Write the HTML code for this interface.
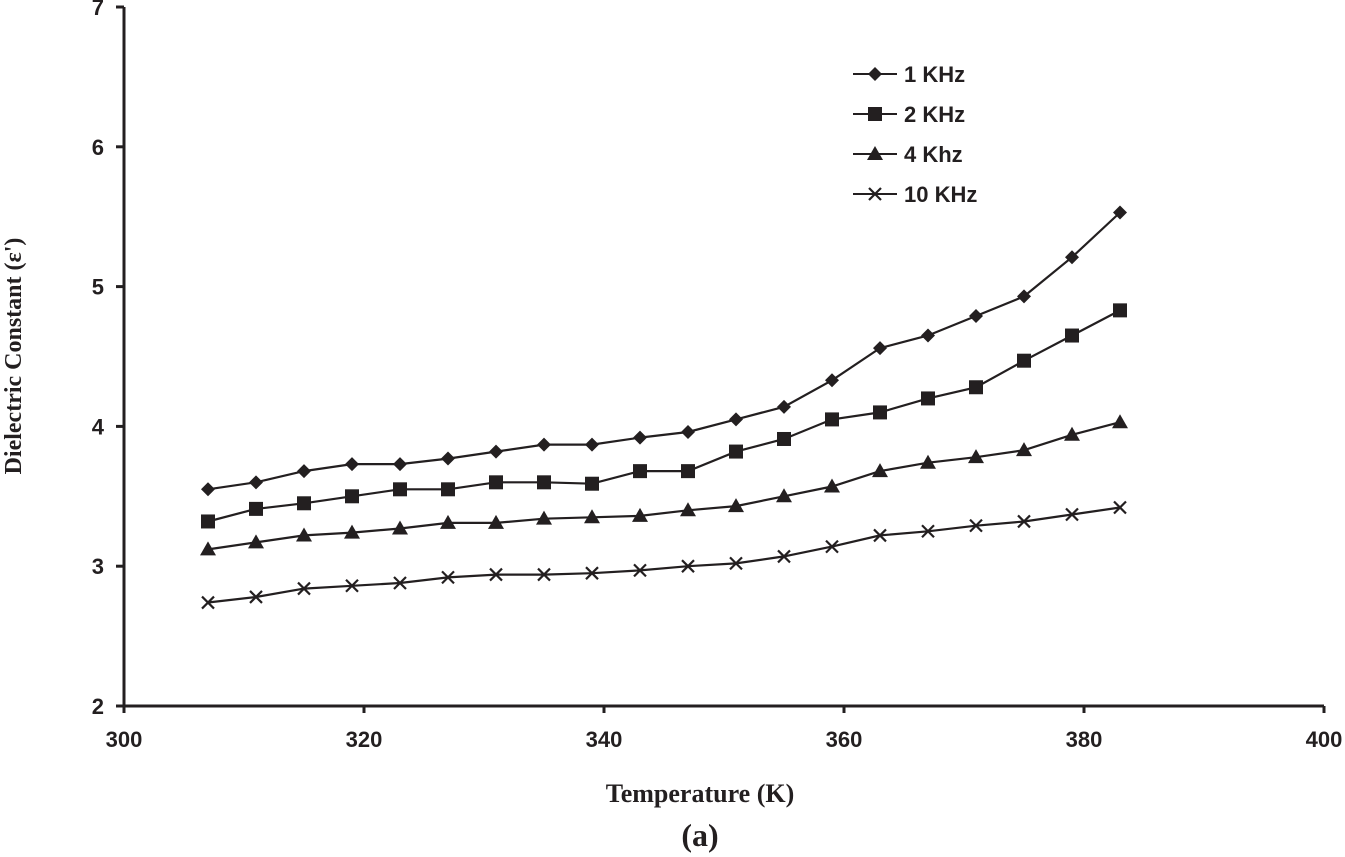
<!DOCTYPE html>
<html><head><meta charset="utf-8"><style>
body{margin:0;background:#fff}
svg{display:block}
.tk{font-family:"Liberation Sans",sans-serif;font-weight:bold;font-size:22px;fill:#231f20}
.tt{font-family:"Liberation Serif",serif;font-weight:bold;fill:#231f20}
</style></head><body>
<svg id="chart" width="1345" height="857" viewBox="0 0 1345 857" xmlns="http://www.w3.org/2000/svg">
<g id="axes"></g>
<g id="series"></g>
<g id="legend"></g>
<text class="tt" x="700" y="802" text-anchor="middle" font-size="26">Temperature (K)</text>
<text class="tt" transform="translate(21,356) rotate(-90)" text-anchor="middle" font-size="24">Dielectric Constant (ε')</text>
<text class="tt" x="700" y="846" text-anchor="middle" font-size="32">(a)</text>
</svg>
<script>
const temps=[307,311,315,319,323,327,331,335,339,343,347,351,355,359,363,367,371,375,379,383];
const s1k=[3.55,3.60,3.68,3.73,3.73,3.77,3.82,3.87,3.87,3.92,3.96,4.05,4.14,4.33,4.56,4.65,4.79,4.93,5.21,5.53];
const s2k=[3.32,3.41,3.45,3.50,3.55,3.55,3.60,3.60,3.59,3.68,3.68,3.82,3.91,4.05,4.10,4.20,4.28,4.47,4.65,4.83];
const s4k=[3.12,3.17,3.22,3.24,3.27,3.31,3.31,3.34,3.35,3.36,3.40,3.43,3.50,3.57,3.68,3.74,3.78,3.83,3.94,4.03];
const s10k=[2.74,2.78,2.84,2.86,2.88,2.92,2.94,2.94,2.95,2.97,3.00,3.02,3.07,3.14,3.22,3.25,3.29,3.32,3.37,3.42];
const xTicks=[300,320,340,360,380,400];
const yTicks=[2,3,4,5,6,7];
const seriesNames=["1 KHz","2 KHz","4 Khz","10 KHz"];
const NS="http://www.w3.org/2000/svg";
const X0=124,X1=1324,Y0=706,Y1=7,C="#231f20";
const xs=v=>X0+(v-300)/100*(X1-X0);
const ys=v=>Y0-(v-2)/5*(Y0-Y1);
function mk(t,a,p){const e=document.createElementNS(NS,t);for(const k in a)e.setAttribute(k,a[k]);p.appendChild(e);return e;}
const ax=document.getElementById('axes');
let e=mk('line',{x1:X0,y1:Y1,x2:X0,y2:Y0+1,stroke:C,'stroke-width':3},ax);


e=mk('line',{x1:X0-1,y1:Y0,x2:X1,y2:Y0,stroke:C,'stroke-width':3},ax);


xTicks.forEach(t=>{const x=xs(t);
 mk('line',{x1:x,y1:Y0,x2:x,y2:Y0+7,stroke:C,'stroke-width':3},ax);
 const tx=mk('text',{x:x,y:Y0+41,'text-anchor':'middle',class:'tk'},ax);tx.textContent=t;
 
 });
yTicks.forEach(t=>{const y=ys(t);
 mk('line',{x1:X0-8,y1:y,x2:X0,y2:y,stroke:C,'stroke-width':3},ax);
 const tx=mk('text',{x:X0-20,y:y+8,'text-anchor':'end',class:'tk'},ax);tx.textContent=t;
 
 });
function marker(kind,x,y,p){
 if(kind===0)return mk('path',{d:`M${x} ${y-7}L${x+7} ${y}L${x} ${y+7}L${x-7} ${y}Z`,fill:C},p);
 if(kind===1)return mk('rect',{x:x-7,y:y-7,width:14,height:14,fill:C},p);
 if(kind===2)return mk('path',{d:`M${x} ${y-8}L${x+8} ${y+6}L${x-8} ${y+6}Z`,fill:C},p);
 return mk('path',{d:`M${x-6} ${y-6}L${x+6} ${y+6}M${x+6} ${y-6}L${x-6} ${y+6}`,stroke:C,'stroke-width':2.2,fill:'none'},p);
}
const sg=document.getElementById('series');
[s1k,s2k,s4k,s10k].forEach((arr,k)=>{
 const g=mk('g',{},sg);
 
 
 const d=arr.map((v,i)=>(i?'L':'M')+xs(temps[i]).toFixed(1)+' '+ys(v).toFixed(1)).join('');
 mk('path',{d:d,fill:'none',stroke:C,'stroke-width':2.2},g);
 arr.forEach((v,i)=>{const m=marker(k,xs(temps[i]),ys(v),g);
  
  });
});
const lg=document.getElementById('legend');
seriesNames.forEach((n,k)=>{const y=74+k*40;
 const g=mk('g',{},lg);
 
 
 mk('line',{x1:853,y1:y,x2:897,y2:y,stroke:C,'stroke-width':2},g);
 marker(k,875,y,g);
 const t=mk('text',{x:904,y:y+8,class:'tk'},g);t.textContent=n;
});
</script>
</body></html>
